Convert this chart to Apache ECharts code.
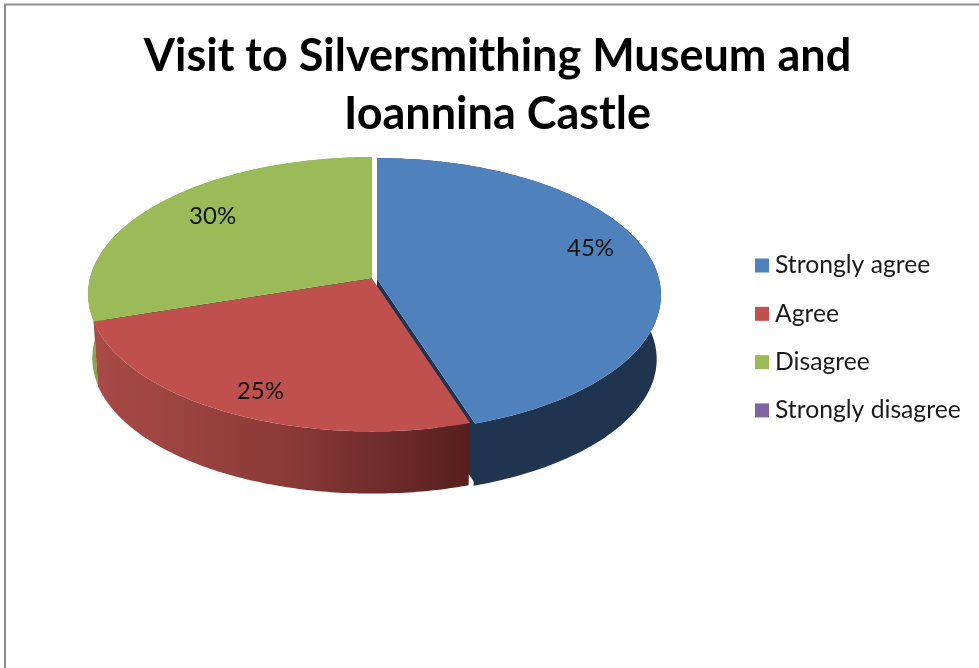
<!DOCTYPE html>
<html><head><meta charset="utf-8">
<style>html,body{margin:0;padding:0;background:#fff}#c{width:979px;height:668px}</style>
<script src="https://cdn.jsdelivr.net/npm/echarts@6/dist/echarts.min.js"></script>
</head><body><div id="c"></div>
<script>
const titleText = 'Visit to Silversmithing Museum and\nIoannina Castle';
const categories = ['Strongly agree', 'Agree', 'Disagree', 'Strongly disagree'];
const values = [45, 25, 30, 0];
const topColors = ['#4f81bd', '#c0504d', '#9bbb59', '#8064a2'];

// drawing style (not data)
const PIE = {cx: 374, cy: 279.5, a: 282, b: 135, k: 0.117, depth: 64.5, lowScale: 0.985};
const looks = [
  {z: 3, dx: 3, dy: -0.5, wall: '#1f344f', cut: '#1f344f', cutAt: 'end', cutDepth: 60, lab: [21, -16]},
  {z: 4, dx: -2, dy: -1, wall: {type: 'linear', x: 0, y: 0, x2: 1, y2: 0, colorStops: [
      {offset: 0, color: '#a94a47'}, {offset: 0.5, color: '#8b3b38'}, {offset: 1, color: '#571f1d'}]}, lab: [-15, 22]},
  {z: 2, dx: -2, dy: -1.5, wall: '#86a34e', cut: '#4f6228', cutAt: 'start', cutDepth: 3, lab: [-7, -9]},
  {z: 1, dx: 0, dy: 0, wall: '#8064a2', lab: [0, 0]}
];
const total = values.reduce((s, v) => s + v, 0);

function project(angle, radius, lower, look) {
  const u = Math.sin(angle) * radius, v = -Math.cos(angle) * radius;
  const d = 1 - PIE.k * v;
  const s = lower ? PIE.lowScale : 1;
  return [PIE.cx + look.dx + PIE.a * u / d * s,
          PIE.cy + look.dy + PIE.b * v / d * s + (lower ? PIE.depth : 0)];
}
function arc(from, to, lower, look) {
  const pts = [], n = 120;
  for (let i = 0; i <= n; i++) pts.push(project(from + (to - from) * i / n, 1, lower, look));
  return pts;
}
function makeRender(index) {
  const look = looks[index];
  return function (params, api) {
    const start = api.value(0), val = api.value(1);
    if (!val) return {type: 'group', children: []};
    const a0 = start / total * Math.PI * 2, a1 = (start + val) / total * Math.PI * 2;
    const children = [];
    if (look.cut) {
      const edge = look.cutAt === 'start' ? a0 : a1;
      const p0 = project(edge, 0, false, look), p1 = project(edge, 1, false, look);
      children.push({type: 'polygon', shape: {points: [
        p0, p1, [p1[0], p1[1] + look.cutDepth], [p0[0], p0[1] + look.cutDepth]]},
        style: {fill: look.cut}});
    }
    children.push({type: 'polygon',
      shape: {points: arc(a0, a1, false, look).concat(arc(a0, a1, true, look).reverse())},
      style: {fill: look.wall}});
    children.push({type: 'polygon',
      shape: {points: [project(a0, 0, false, look)].concat(arc(a0, a1, false, look))},
      style: {fill: topColors[index]}});
    const mid = project((a0 + a1) / 2, 0.7, false, look);
    children.push({type: 'text', z2: 10, style: {
      text: Math.round(val / total * 100) + '%',
      x: mid[0] + look.lab[0], y: mid[1] + look.lab[1],
      align: 'center', verticalAlign: 'middle',
      font: '24px Lato', fill: '#111'}});
    return {type: 'group', children};
  };
}
let running = 0;
const series = categories.map((name, i) => {
  const start = running; running += values[i];
  return {
    type: 'custom', name, coordinateSystem: 'none', z: looks[i].z, silent: true,
    itemStyle: {color: topColors[i]},
    renderItem: makeRender(i),
    data: [[start, values[i]]]
  };
});
const chart = echarts.init(document.getElementById('c'), null, {renderer: 'canvas'});
chart.setOption({
  animation: false,
  backgroundColor: '#fff',
  title: {text: titleText, left: 492.5, top: 22, textAlign: 'center',
    textStyle: {fontFamily: 'Lato', fontWeight: 'bold', fontSize: 45, lineHeight: 58, color: '#000'}},
  legend: {orient: 'vertical', left: 750, top: 248, icon: 'rect', itemWidth: 14, itemHeight: 14,
    itemGap: 23.3, selectedMode: false, data: categories,
    textStyle: {fontFamily: 'Lato', fontSize: 24.7, lineHeight: 24, color: '#1a1a1a', padding: [0, 0, 0, 1]}},
  graphic: [
    {type: 'polyline', silent: true, shape: {points: [[979, 4.5], [5, 4.5], [5, 668]]},
     style: {stroke: '#8c8c8c', lineWidth: 2, fill: null}}
  ],
  series
});
</script></body></html>
